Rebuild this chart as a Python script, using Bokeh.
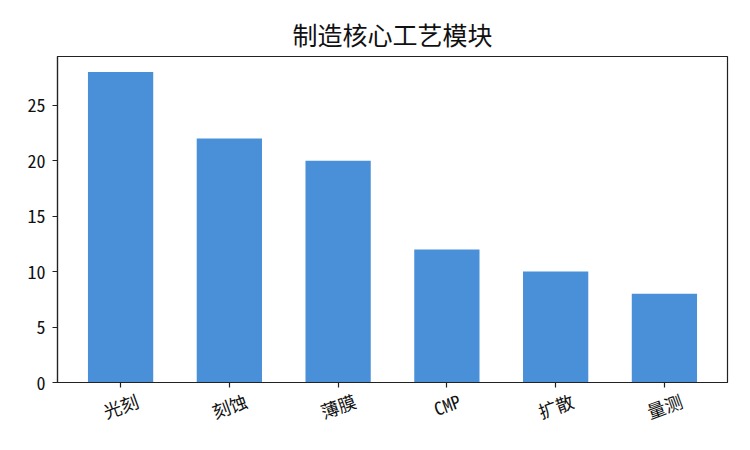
import math
from bokeh.plotting import figure
from bokeh.models import FixedTicker, Range1d, LinearAxis, CustomJSTickFormatter
from bokeh.embed import file_html
from bokeh.resources import INLINE

categories = ["光刻", "刻蚀", "薄膜", "CMP", "扩散", "量测"]
values = [28, 22, 20, 12, 10, 8]
y_ticks = [0, 5, 10, 15, 20, 25]

FONT = "Noto Sans Mono CJK SC, Noto Sans CJK SC, sans-serif"
TICK_FS = 18
ANGLE = 20
xs = list(range(len(categories)))

W, H = 734, 440
BL, BT, BR, BB = 57, 56, 7, 58
X0, X1 = -0.58, 5.58

p = figure(width=W, height=H, output_backend="svg", toolbar_location=None,
           x_range=Range1d(X0, X1), y_range=Range1d(0, 29.4),
           min_border_left=BL, min_border_top=BT, min_border_right=BR, min_border_bottom=BB)
p.title.text = "制造核心工艺模块"
p.title.align = "center"
p.title.text_font = FONT
p.title.text_font_size = "25px"
p.title.text_font_style = "normal"
p.title.text_color = "#111111"
p.title.standoff = 10

p.vbar(x=xs, top=values, width=0.6, bottom=0, color="#4a90d9", line_color=None)

p.grid.visible = False
p.outline_line_color = "#222222"
p.outline_line_width = 1.2

p.xaxis.ticker = FixedTicker(ticks=xs)
p.yaxis.ticker = FixedTicker(ticks=y_ticks)

for ax in (p.xaxis, p.yaxis):
    ax.major_label_text_font = FONT
    ax.major_label_text_font_size = f"{TICK_FS}px"
    ax.major_label_text_color = "#111111"
    ax.minor_tick_line_color = None
    ax.major_tick_in = 0
    ax.major_tick_out = 5
    ax.axis_line_color = "#222222"
    ax.axis_line_width = 1.2
    ax.major_tick_line_color = "#222222"
    ax.major_tick_line_width = 1.2
p.yaxis.major_label_standoff = 7
# the tick marks stay on this axis; its labels are drawn by the axis below
p.xaxis.formatter = CustomJSTickFormatter(code="return ''")
p.xaxis.major_label_standoff = 0

# rotated category labels centred under their ticks: Bokeh anchors the right end
# of a rotated label at the tick, so shift each anchor by half the label's width
px_per_unit = (W - BL - BR) / (X1 - X0)
def label_width(s):
    return sum(1.0 if ord(ch) > 255 else 0.5 for ch in s) * TICK_FS
shifted = [i + label_width(c) / 2 * math.cos(math.radians(ANGLE)) / px_per_unit
           for i, c in enumerate(categories)]

lab_axis = LinearAxis(ticker=FixedTicker(ticks=shifted),
                      formatter=CustomJSTickFormatter(args=dict(names=categories),
                                                      code="return names[Math.round(tick)]"))
lab_axis.axis_line_color = None
lab_axis.major_tick_line_color = None
lab_axis.minor_tick_line_color = None
lab_axis.major_label_orientation = math.radians(ANGLE)
lab_axis.major_label_text_font = FONT
lab_axis.major_label_text_font_size = f"{TICK_FS}px"
lab_axis.major_label_text_color = "#111111"
lab_axis.major_label_standoff = 6
p.add_layout(lab_axis, "below")

open("out.html", "w").write(file_html(p, INLINE))
